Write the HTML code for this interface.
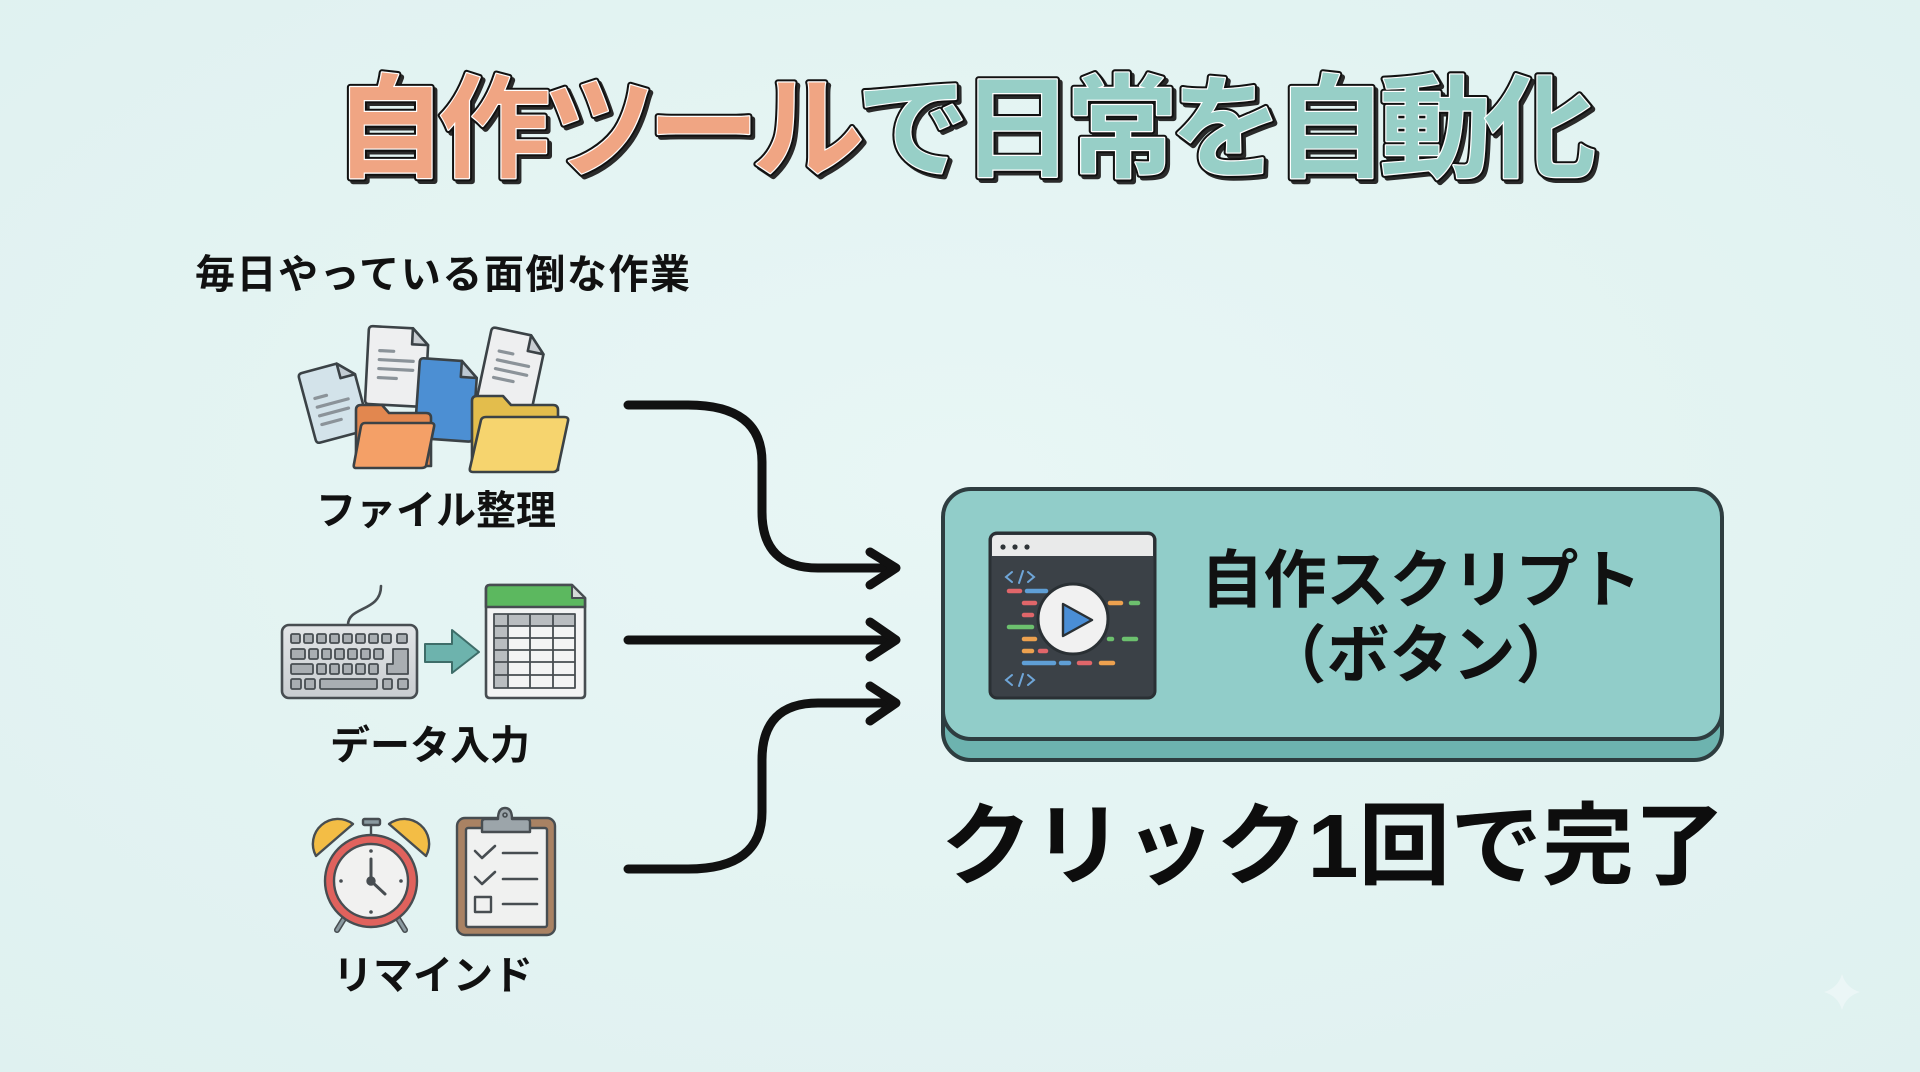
<!DOCTYPE html>
<html>
<head>
<meta charset="utf-8">
<style>
html,body{margin:0;padding:0;background:#e4f4f3;}
svg{display:block;}
.jp{font-family:"Liberation Sans","Noto Sans CJK JP",sans-serif;font-weight:700;}
</style>
</head>
<body>
<svg width="1920" height="1072" viewBox="0 0 1920 1072" xmlns="http://www.w3.org/2000/svg">
<defs>
  <radialGradient id="bg" cx="50%" cy="45%" r="75%">
    <stop offset="0" stop-color="#e8f6f5"/>
    <stop offset="1" stop-color="#dff1f0"/>
  </radialGradient>
  <linearGradient id="kb" x1="0" y1="0" x2="0" y2="1">
    <stop offset="0" stop-color="#e2e5e7"/>
    <stop offset="1" stop-color="#c9cdd0"/>
  </linearGradient>
</defs>
<rect x="0" y="0" width="1920" height="1072" fill="url(#bg)"/>

<!-- TITLE -->
<g class="jp" font-size="112">
  <text x="337" y="171" textLength="1262" lengthAdjust="spacing" fill="#2a2a2a" stroke="#2a2a2a" stroke-width="6" stroke-linejoin="round">自作ツールで日常を自動化</text>
  <text x="334" y="168" textLength="1262" lengthAdjust="spacing" fill="#111" stroke="#111" stroke-width="6.5" stroke-linejoin="round">自作ツールで日常を自動化</text>
  <text x="334" y="168" textLength="1262" lengthAdjust="spacing" stroke="#ffffff" stroke-width="2.4" stroke-linejoin="round" paint-order="stroke"><tspan fill="#f0a583">自作ツール</tspan><tspan fill="#97cfc7">で日常を自動化</tspan></text>
</g>

<!-- subtitle -->
<text class="jp" x="195" y="288" font-size="40" textLength="495" lengthAdjust="spacing" fill="#111">毎日やっている面倒な作業</text>

<!-- FILE ICONS -->
<g stroke="#3b4246" stroke-width="2.6" stroke-linejoin="round" stroke-linecap="round">
  <g transform="translate(298,374) rotate(-15)">
    <path d="M0 4 Q0 0 4 0 H40 L55 15 V68 Q55 72 51 72 H4 Q0 72 0 68 Z" fill="#d3e3ea"/>
    <path d="M40 0 V15 H55 Z" fill="#c2ccd3"/>
    <g stroke="#8b9399" stroke-width="3.2"><line x1="10" y1="28" x2="22" y2="28"/><line x1="10" y1="37" x2="42" y2="37"/><line x1="10" y1="46" x2="40" y2="46"/><line x1="10" y1="55" x2="30" y2="55"/></g>
  </g>
  <g transform="translate(369,326) rotate(3)">
    <path d="M0 4 Q0 0 4 0 H44 L60 16 V74 Q60 78 56 78 H4 Q0 78 0 74 Z" fill="#eeeff0"/>
    <path d="M44 0 V16 H60 Z" fill="#c9ced2"/>
    <g stroke="#8b9399" stroke-width="3.2"><line x1="12" y1="24" x2="26" y2="24"/><line x1="12" y1="33" x2="46" y2="33"/><line x1="12" y1="42" x2="46" y2="42"/><line x1="12" y1="51" x2="30" y2="51"/></g>
  </g>
  <g transform="translate(492,327) rotate(12)">
    <path d="M0 4 Q0 0 4 0 H40 L56 16 V72 Q56 76 52 76 H4 Q0 76 0 72 Z" fill="#eeeff0"/>
    <path d="M40 0 V16 H56 Z" fill="#c9ced2"/>
    <g stroke="#8b9399" stroke-width="3.2"><line x1="12" y1="22" x2="26" y2="22"/><line x1="12" y1="31" x2="44" y2="31"/><line x1="12" y1="40" x2="44" y2="40"/><line x1="12" y1="49" x2="32" y2="49"/></g>
  </g>
  <g transform="translate(420,358) rotate(4)">
    <path d="M0 4 Q0 0 4 0 H42 L58 16 V76 Q58 80 54 80 H4 Q0 80 0 76 Z" fill="#4c8fd3"/>
    <path d="M42 0 V16 H58 Z" fill="#bcc8d2"/>
  </g>
  <path d="M356 410 Q356 405 361 405 H382 L389 413 H426 Q431 413 431 418 V466 H356 Z" fill="#e2874f"/>
  <path d="M365 423 H431 Q435 423 434 427 L426 466 Q425 468 421 468 H356 Q353 468 354 464 L361 426 Q362 423 365 423 Z" fill="#f4a067"/>
  <path d="M472 401 Q472 396 477 396 H503 L511 405 H553 Q558 405 558 410 V470 H472 Z" fill="#e3bd4c"/>
  <path d="M486 417 H564 Q569 417 568 421 L558 468 Q557 472 553 472 H473 Q469 472 470 468 L481 420 Q482 417 486 417 Z" fill="#f6d46e"/>
</g>
<text class="jp" x="436" y="524" font-size="40" text-anchor="middle" fill="#111">ファイル整理</text>

<!-- KEYBOARD -->
<g stroke="#474d51" stroke-linejoin="round">
  <path d="M348 625 C348 606 381 612 381 586" fill="none" stroke-width="2.6" stroke-linecap="round"/>
  <rect x="282" y="625" width="135" height="73" rx="7" fill="url(#kb)" stroke-width="2.6"/>
  <g fill="#a9aeb2" stroke-width="1.8">
    <rect x="291" y="634" width="9" height="9" rx="1.5"/><rect x="304" y="634" width="9" height="9" rx="1.5"/><rect x="317" y="634" width="9" height="9" rx="1.5"/><rect x="330" y="634" width="9" height="9" rx="1.5"/><rect x="343" y="634" width="9" height="9" rx="1.5"/><rect x="356" y="634" width="9" height="9" rx="1.5"/><rect x="369" y="634" width="9" height="9" rx="1.5"/><rect x="382" y="634" width="9" height="9" rx="1.5"/><rect x="397" y="634" width="10" height="9" rx="1.5"/>
    <rect x="291" y="649" width="14" height="10" rx="1.5"/><rect x="309" y="649" width="9" height="10" rx="1.5"/><rect x="322" y="649" width="9" height="10" rx="1.5"/><rect x="335" y="649" width="9" height="10" rx="1.5"/><rect x="348" y="649" width="9" height="10" rx="1.5"/><rect x="361" y="649" width="9" height="10" rx="1.5"/><rect x="374" y="649" width="9" height="10" rx="1.5"/>
    <path d="M393 649 H408 V674 H387 V664 H393 Z" />
    <rect x="291" y="664" width="22" height="10" rx="1.5"/><rect x="317" y="664" width="9" height="10" rx="1.5"/><rect x="330" y="664" width="9" height="10" rx="1.5"/><rect x="343" y="664" width="9" height="10" rx="1.5"/><rect x="356" y="664" width="9" height="10" rx="1.5"/><rect x="369" y="664" width="9" height="10" rx="1.5"/>
    <rect x="291" y="679" width="10" height="10" rx="1.5"/><rect x="305" y="679" width="10" height="10" rx="1.5"/><rect x="320" y="679" width="57" height="10" rx="1.5"/><rect x="383" y="679" width="9" height="10" rx="1.5"/><rect x="398" y="679" width="10" height="10" rx="1.5"/>
  </g>
  <path d="M425 644 H452 V630 L479 652 L452 673 V662 H425 Z" fill="#6db3ad" stroke="#3e6d69" stroke-width="2"/>
  <path d="M490 585 H572 L585 598 V694 Q585 698 581 698 H490 Q486 698 486 694 V589 Q486 585 490 585 Z" fill="#f3f4f4" stroke-width="2.6"/>
  <path d="M490 585 H572 L585 598 V607 H486 V589 Q486 585 490 585 Z" fill="#5cb85f" stroke-width="2.6"/>
  <path d="M572 585 V598 H585 Z" fill="#d5dad8" stroke-width="2"/>
  <rect x="494" y="614" width="81" height="12" fill="#b9bdc0" stroke="none"/>
  <rect x="494" y="614" width="14" height="74" fill="#b9bdc0" stroke="none"/>
  <g stroke-width="1.8" fill="none">
    <rect x="494" y="614" width="81" height="74"/>
    <line x1="508" y1="614" x2="508" y2="688"/><line x1="530" y1="614" x2="530" y2="688"/><line x1="553" y1="614" x2="553" y2="688"/>
    <line x1="494" y1="626" x2="575" y2="626"/><line x1="494" y1="638" x2="575" y2="638"/><line x1="494" y1="650" x2="575" y2="650"/><line x1="494" y1="662" x2="575" y2="662"/><line x1="494" y1="675" x2="575" y2="675"/>
  </g>
</g>
<text class="jp" x="430" y="759" font-size="40" text-anchor="middle" fill="#111">データ入力</text>

<!-- ALARM CLOCK -->
<g stroke="#474d51" stroke-width="2.4" stroke-linejoin="round" stroke-linecap="round">
  <line x1="345" y1="917" x2="337" y2="930" stroke-width="6"/>
  <line x1="397" y1="917" x2="405" y2="930" stroke-width="6"/>
  <line x1="345" y1="917" x2="337" y2="930" stroke="#8a9aa0" stroke-width="3"/>
  <line x1="397" y1="917" x2="405" y2="930" stroke="#8a9aa0" stroke-width="3"/>
  <path d="M316 856 A25 25 0 0 1 353 824 Z" fill="#f3bd45"/>
  <path d="M389 824 A25 25 0 0 1 426 856 Z" fill="#f3bd45"/>
  <line x1="371" y1="825" x2="371" y2="836"/>
  <rect x="363" y="819" width="17" height="6" rx="1.5" fill="#8a9aa0"/>
  <circle cx="371" cy="881" r="46" fill="#e0625d"/>
  <circle cx="371" cy="881" r="37" fill="#f1f1f0"/>
  <line x1="371" y1="881" x2="371" y2="859" stroke-width="3"/>
  <line x1="371" y1="881" x2="385" y2="894" stroke-width="3"/>
  <circle cx="371" cy="881" r="3.5" fill="#474d51"/>
  <g fill="#474d51" stroke="none"><circle cx="371" cy="851" r="1.8"/><circle cx="371" cy="912" r="1.8"/><circle cx="341" cy="881" r="1.8"/><circle cx="401" cy="881" r="1.8"/></g>
  <rect x="457" y="818" width="98" height="117" rx="8" fill="#a98263"/>
  <rect x="466" y="828" width="81" height="99" rx="2" fill="#f0f1f0"/>
  <path d="M482 832 V822 Q482 819 485 819 H498 Q498 808 505 808 Q512 808 512 819 H527 Q530 819 530 822 V832 Z" fill="#9ca5aa"/>
  <circle cx="505" cy="815" r="2" fill="none" stroke-width="1.6"/>
  <path d="M475 851 L482 858 L495 846" fill="none" stroke-width="2.6"/>
  <path d="M475 877 L482 884 L495 872" fill="none" stroke-width="2.6"/>
  <rect x="475" y="897" width="16" height="15" fill="none" stroke-width="2.4"/>
  <line x1="503" y1="853" x2="537" y2="853" stroke-width="2.6"/>
  <line x1="503" y1="879" x2="537" y2="879" stroke-width="2.6"/>
  <line x1="503" y1="904" x2="537" y2="904" stroke-width="2.6"/>
</g>
<text class="jp" x="433" y="989" font-size="40" text-anchor="middle" fill="#111">リマインド</text>

<!-- CONNECTORS -->
<g fill="none" stroke="#111" stroke-width="9" stroke-linecap="round" stroke-linejoin="round">
  <path d="M628 405 H688 Q762 405 762 462 V512 Q762 568 818 568 H894"/>
  <path d="M870 552 L896 568 L870 585"/>
  <path d="M628 640 H894"/>
  <path d="M870 622 L896 640 L870 657"/>
  <path d="M628 869 H688 Q762 869 762 812 V760 Q762 703 818 703 H894"/>
  <path d="M870 686 L896 703 L870 721"/>
</g>

<!-- BUTTON -->
<rect x="943" y="502" width="779" height="258" rx="28" fill="#6db3af" stroke="#2e3d40" stroke-width="4"/>
<rect x="943" y="489" width="779" height="250" rx="28" fill="#91cdc9" stroke="#2e3d40" stroke-width="4"/>

<g stroke-linecap="round">
  <rect x="990" y="533" width="165" height="165" rx="7" fill="#3b4147" stroke="#2a3034" stroke-width="3"/>
  <path d="M992 556 V540 Q992 535 997 535 H1148 Q1153 535 1153 540 V556 Z" fill="#e9eaea"/>
  <g fill="#2f3438"><circle cx="1003" cy="547" r="2.6"/><circle cx="1015" cy="547" r="2.6"/><circle cx="1027" cy="547" r="2.6"/></g>
  <g fill="none" stroke="#6fa6d8" stroke-width="2"><path d="M1012 572 L1006 577 L1012 582"/><path d="M1019 583 L1023 571"/><path d="M1028 572 L1034 577 L1028 582"/>
  <path d="M1012 675 L1006 680 L1012 685"/><path d="M1019 686 L1023 674"/><path d="M1028 675 L1034 680 L1028 685"/></g>
  <g stroke-width="4.5">
    <line x1="1009" y1="591" x2="1020" y2="591" stroke="#e0666a"/><line x1="1027" y1="591" x2="1046" y2="591" stroke="#5f9fd6"/>
    <line x1="1024" y1="603" x2="1035" y2="603" stroke="#e0666a"/><line x1="1110" y1="603" x2="1121" y2="603" stroke="#eda14f"/><line x1="1131" y1="603" x2="1138" y2="603" stroke="#6cc06e"/>
    <line x1="1024" y1="615" x2="1032" y2="615" stroke="#e0666a"/>
    <line x1="1009" y1="627" x2="1032" y2="627" stroke="#6cc06e"/>
    <line x1="1024" y1="639" x2="1035" y2="639" stroke="#eda14f"/><line x1="1109" y1="639" x2="1112" y2="639" stroke="#6cc06e"/><line x1="1124" y1="639" x2="1136" y2="639" stroke="#6cc06e"/>
    <line x1="1024" y1="651" x2="1032" y2="651" stroke="#eda14f"/><line x1="1040" y1="651" x2="1046" y2="651" stroke="#e0666a"/>
    <line x1="1024" y1="663" x2="1054" y2="663" stroke="#5f9fd6"/><line x1="1061" y1="663" x2="1069" y2="663" stroke="#5f9fd6"/><line x1="1079" y1="663" x2="1090" y2="663" stroke="#e0666a"/><line x1="1101" y1="663" x2="1113" y2="663" stroke="#eda14f"/>
  </g>
  <circle cx="1073" cy="619" r="35" fill="#f1f1f1" stroke="#2a3034" stroke-width="3"/>
  <path d="M1063 604 L1092 620 L1063 636 Z" fill="#4a8ed6" stroke="#2a3034" stroke-width="2.4" stroke-linejoin="round"/>
</g>

<text class="jp" x="1421" y="602" font-size="63" text-anchor="middle" fill="#111">自作スクリプト</text>
<text class="jp" x="1421" y="677" font-size="63" text-anchor="middle" fill="#111">（ボタン）</text>

<text class="jp" x="1333" y="877" font-size="90" text-anchor="middle" textLength="785" lengthAdjust="spacingAndGlyphs" fill="#0d0d0d">クリック1回で完了</text>

<path d="M1842 974 Q1846 988 1860 992 Q1846 996 1842 1010 Q1838 996 1824 992 Q1838 988 1842 974 Z" fill="#ffffff" opacity="0.35"/>
</svg>
</body>
</html>
